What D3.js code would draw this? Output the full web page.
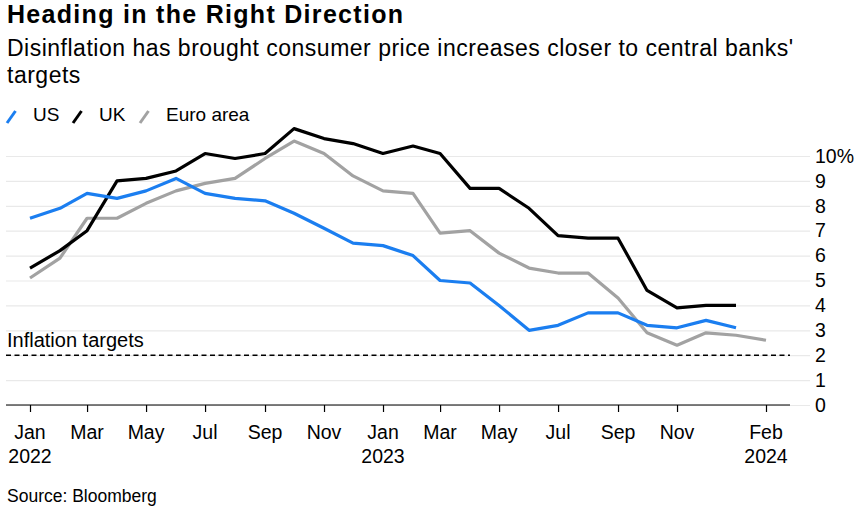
<!DOCTYPE html>
<html>
<head>
<meta charset="utf-8">
<script src="https://cdn.jsdelivr.net/npm/d3@7"></script>
<style>
body { margin:0; background:#fff; }
text { font-family:"Liberation Sans", Arial, Helvetica, sans-serif; fill:#000; }
</style>
</head>
<body>
<div id="chart-area"></div>
<script>
// monthly readings, % y/y
var months = ["2022-01","2022-02","2022-03","2022-04","2022-05","2022-06","2022-07","2022-08","2022-09","2022-10","2022-11","2022-12",
              "2023-01","2023-02","2023-03","2023-04","2023-05","2023-06","2023-07","2023-08","2023-09","2023-10","2023-11","2023-12",
              "2024-01","2024-02"]
var usValues   = [7.5,7.9,8.5,8.3,8.6,9.1,8.5,8.3,8.2,7.7,7.1,6.5, 6.4,6.0,5.0,4.9,4.0,3.0,3.2,3.7,3.7,3.2,3.1,3.4, 3.1]
var ukValues   = [5.5,6.2,7.0,9.0,9.1,9.4,10.1,9.9,10.1,11.1,10.7,10.5, 10.1,10.4,10.1,8.7,8.7,7.9,6.8,6.7,6.7,4.6,3.9,4.0, 4.0]
var euroValues = [5.1,5.9,7.5,7.5,8.1,8.6,8.9,9.1,9.9,10.6,10.1,9.2, 8.6,8.5,6.9,7.0,6.1,5.5,5.3,5.3,4.3,2.9,2.4,2.9, 2.8,2.6]
var targetValue = 2

var seriesNames  = ["US","UK","Euro area"]
var seriesColors = ["#1b7ef0","#000000","#a2a2a2"]

var yTicks = [0,1,2,3,4,5,6,7,8,9,10]
var yTickLabels = ["0","1","2","3","4","5","6","7","8","9","10%"]
var xTicks = ["2022-01","2022-03","2022-05","2022-07","2022-09","2022-11","2023-01","2023-03","2023-05","2023-07","2023-09","2023-11","2024-02"]
var xYearTicks = ["2022-01","2023-01","2024-02"]

var W = 866, H = 513
var parse = d3.timeParse("%Y-%m")

var svg = d3.select('#chart-area').append('svg')
  .attr('width', W).attr('height', H)

// titles
svg.append('text').attr('x', 7).attr('y', 23)
  .attr('font-size', '25px').attr('font-weight', 'bold')
  .attr('textLength', 396)
  .text('Heading in the Right Direction')
svg.append('text').attr('x', 7).attr('y', 56)
  .attr('font-size', '23px').attr('letter-spacing', '0.5px')
  .text("Disinflation has brought consumer price increases closer to central banks'")
svg.append('text').attr('x', 7).attr('y', 83)
  .attr('font-size', '23px').attr('letter-spacing', '0.5px')
  .text('targets')

// legend
var legendX = [7, 73, 140]
var legend = svg.append('g')
seriesNames.forEach(function(name, i){
  var g = legend.append('g').attr('transform', 'translate(' + legendX[i] + ',0)')
  g.append('line')
    .attr('x1', 0).attr('y1', 123).attr('x2', 8.5).attr('y2', 111)
    .attr('stroke', seriesColors[i]).attr('stroke-width', 3)
  g.append('text').attr('x', 26).attr('y', 120.5)
    .attr('font-size', '19px').text(name)
})

// scales
var xScale = d3.scaleTime()
  .domain([parse("2022-01"), parse("2024-02")])
  .range([30, 766])
var yScale = d3.scaleLinear()
  .domain([0, 10])
  .range([405, 156])

var plotLeft = 6, plotRight = 790, gridRight = 810

// gridlines + right-hand labels
var yAxis = d3.axisRight(yScale)
  .tickValues(yTicks)
  .tickSize(gridRight - plotLeft)
  .tickPadding(5)
  .tickFormat(function(d, i){ return yTickLabels[i] })
var yg = svg.append('g')
  .attr('transform', 'translate(' + plotLeft + ',0)')
  .call(yAxis)
yg.select('.domain').remove()
yg.selectAll('.tick line').attr('stroke', '#e9e9e9').attr('stroke-width', 1.2)
yg.selectAll('.tick text')
  .attr('font-size', '19.5px').attr('fill', '#000')
  .attr('font-family', '"Liberation Sans", Arial, sans-serif')

// inflation target
svg.append('line')
  .attr('x1', plotLeft).attr('x2', plotRight)
  .attr('y1', yScale(targetValue)).attr('y2', yScale(targetValue))
  .attr('stroke', '#000').attr('stroke-width', 1.6)
  .attr('stroke-dasharray', '5,3.5')
svg.append('text').attr('x', 7).attr('y', yScale(targetValue) - 8)
  .attr('font-size', '20px').text('Inflation targets')

// x axis
var xAxis = d3.axisBottom(xScale)
  .tickValues(xTicks.map(parse))
  .tickSize(7)
  .tickFormat('')
var xg = svg.append('g')
  .attr('transform', 'translate(0,' + yScale(0) + ')')
  .call(xAxis)
xg.select('.domain').remove()
xg.selectAll('.tick line').attr('stroke', '#000').attr('stroke-width', 1.2)
svg.append('line')
  .attr('x1', plotLeft).attr('x2', plotRight)
  .attr('y1', yScale(0)).attr('y2', yScale(0))
  .attr('stroke', '#000').attr('stroke-width', 1.2)

var fmtMonth = d3.timeFormat('%b'), fmtYear = d3.timeFormat('%Y')
xTicks.forEach(function(m){
  var d = parse(m)
  svg.append('text').attr('x', xScale(d)).attr('y', 439)
    .attr('text-anchor', 'middle').attr('font-size', '19.5px')
    .text(fmtMonth(d))
  if (xYearTicks.indexOf(m) >= 0) {
    svg.append('text').attr('x', xScale(d)).attr('y', 463)
      .attr('text-anchor', 'middle').attr('font-size', '19.5px')
      .text(fmtYear(d))
  }
})

// lines
var line = d3.line()
  .x(function(d){ return xScale(d.date) })
  .y(function(d){ return yScale(d.value) })

function toPoints(values){
  return values.map(function(v, i){ return {date: parse(months[i]), value: v} })
}
var series = [toPoints(usValues), toPoints(ukValues), toPoints(euroValues)]

// draw grey first, blue on top
;[2, 1, 0].forEach(function(i){
  svg.append('path')
    .datum(series[i])
    .attr('d', line)
    .attr('fill', 'none')
    .attr('stroke', seriesColors[i])
    .attr('stroke-width', 3.2)
    .attr('stroke-linejoin', 'round')
})

// source
svg.append('text').attr('x', 7).attr('y', 502)
  .attr('font-size', '17.5px').text('Source: Bloomberg')
</script>
</body>
</html>
